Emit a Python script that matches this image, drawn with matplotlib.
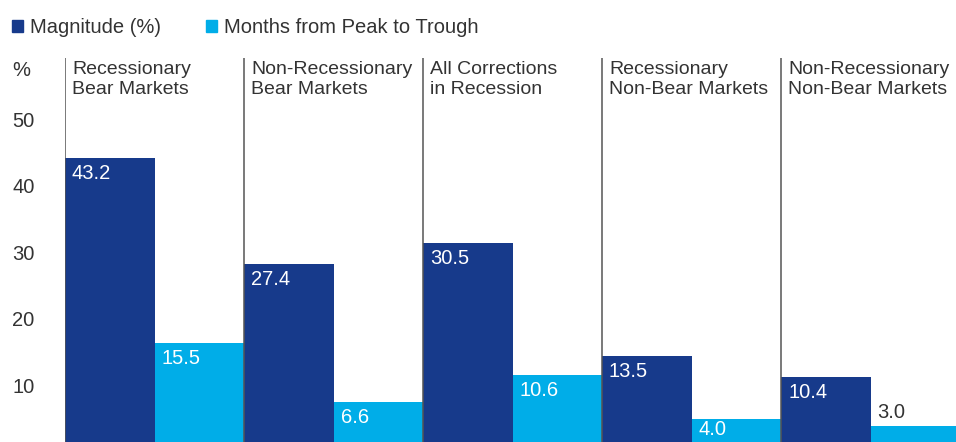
import matplotlib
matplotlib.use("Agg")
import matplotlib.pyplot as plt
from matplotlib.patches import Patch
from matplotlib.transforms import ScaledTranslation
import numpy as np

# data
groups = [
    "Recessionary\nBear Markets",
    "Non-Recessionary\nBear Markets",
    "All Corrections\nin Recession",
    "Recessionary\nNon-Bear Markets",
    "Non-Recessionary\nNon-Bear Markets",
]
magnitude = [43.2, 27.4, 30.5, 13.5, 10.4]
months = [15.5, 6.6, 10.6, 4.0, 3.0]
yticks = [10, 20, 30, 40, 50]

NAVY = "#173a8b"
CYAN = "#00ade8"
TEXT = "#333333"

plt.rcParams["font.family"] = ["Liberation Sans", "DejaVu Sans"]
FS = 14

W, H = 956, 442
fig = plt.figure(figsize=(W / 100, H / 100), dpi=100)
ax = fig.add_axes([65 / W, 0, 1 - 65 / W, 1 - 58 / H])

x = np.arange(len(groups))
bw = 0.5
b1 = ax.bar(x - bw / 2, magnitude, width=bw, color=NAVY, zorder=2)
b2 = ax.bar(x + bw / 2, months, width=bw, color=CYAN, zorder=2)

ax.set_xlim(-0.5, -0.5 + (W - 65) / 179)
ax.set_ylim(0.6, 58.3)

for i in range(len(groups)):
    ax.axvline(i - 0.5, color="#555555", lw=1.1, zorder=3)
    ax.annotate(groups[i], xy=(i - 0.5, 1), xycoords=("data", "axes fraction"),
                xytext=(7, -3), textcoords="offset pixels", ha="left", va="top",
                fontsize=FS, color=TEXT, linespacing=1.2)

def label_bars(bars, vals):
    for rect, v in zip(bars, vals):
        left = rect.get_x()
        if v >= 3.5:
            # short bars get the label pushed up so it still fits
            dy = -6 if v >= 5 else -1
            ax.annotate(f"{v:.1f}", xy=(left, v), xytext=(7, dy),
                        textcoords="offset pixels", ha="left", va="top",
                        fontsize=FS + 0.5, color="white", zorder=4)
        else:
            ax.annotate(f"{v:.1f}", xy=(left, v), xytext=(7, 4),
                        textcoords="offset pixels", ha="left", va="bottom",
                        fontsize=FS + 0.5, color=TEXT, zorder=4)

label_bars(b1, magnitude)
label_bars(b2, months)

for s in ax.spines.values():
    s.set_visible(False)
ax.set_xticks([])
ax.set_yticks(yticks)
ax.set_yticklabels([str(t) for t in yticks], ha="left", color=TEXT, fontsize=FS + 0.5)
ax.tick_params(axis="y", length=0, pad=53 * 0.72)
shift = ScaledTranslation(0, -6 / 100, fig.dpi_scale_trans)
for lab in ax.get_yticklabels():
    lab.set_transform(lab.get_transform() + shift)

fig.text(12 / W, 1 - 70 / H, "%", ha="left", va="center", fontsize=FS + 0.5, color=TEXT)

handles = [Patch(color=NAVY, label="Magnitude (%)"), Patch(color=CYAN, label="Months from Peak to Trough")]
fig.legend(handles=handles, loc="upper left", bbox_to_anchor=(2 / W, 1 - 8 / H), ncol=2,
           frameon=False, fontsize=FS + 0.5, handlelength=0.55, handleheight=0.55,
           handletextpad=0.35, columnspacing=2.2, borderpad=0, labelcolor=TEXT)

fig.savefig("out.png", dpi=100)
